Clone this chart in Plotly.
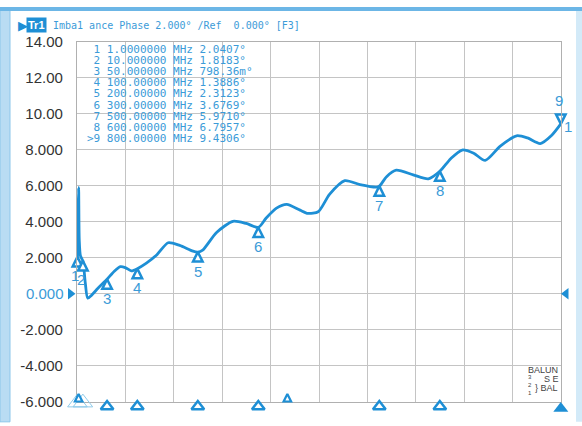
import plotly.graph_objects as go

# ---------------- data ----------------
freq_mhz = [0.3, 1, 2, 3, 4, 6, 10, 14, 18, 24, 35, 50, 62, 72, 80, 90, 100, 115, 132,
            151, 170, 192, 200, 208, 231, 258, 280, 300, 313, 330, 347, 369, 382, 399,
            418, 443, 468, 495, 500, 512, 528, 556, 581, 600, 618, 637, 656, 675, 700,
            727, 745, 766, 785, 800]
phase_deg = [2.0, 2.04, 4.5, 5.9, 3.0, 2.1, 1.82, 0.6, -0.25, -0.1, 0.3, 0.8, 1.25, 1.5,
             1.45, 1.27, 1.39, 1.7, 2.15, 2.83, 2.68, 2.36, 2.31, 2.42, 3.4, 4.02, 3.9,
             3.68, 4.2, 4.75, 4.96, 4.64, 4.46, 4.55, 5.53, 6.28, 6.06, 5.92, 5.97, 6.5,
             6.86, 6.6, 6.38, 6.8, 7.5, 7.98, 7.8, 7.4, 8.2, 8.77, 8.65, 8.34, 8.8, 9.43]

marker_ids = ["1", "2", "3", "4", "5", "6", "7", "8", "9"]
marker_freq = [1, 10, 50, 100, 200, 300, 500, 600, 800]
marker_val = [2.0407, 1.8183, 0.79836, 1.3886, 2.3123, 3.6769, 5.9710, 6.7957, 9.4306]
marker_freq_txt = ["1.0000000", "10.000000", "50.000000", "100.00000", "200.00000",
                   "300.00000", "500.00000", "600.00000", "800.00000"]
marker_val_txt = ["2.0407°", "1.8183°", "798.36m°", "1.3886°", "2.3123°",
                  "3.6769°", "5.9710°", "6.7957°", "9.4306°"]

y_ticks = [-6, -4, -2, 0, 2, 4, 6, 8, 10, 12, 14]
y_tick_txt = ["-6.000", "-4.000", "-2.000", "0.000", "2.000", "4.000", "6.000",
              "8.000", "10.00", "12.00", "14.00"]
ref_level = 0
stim_indicators = [3, 348]

title_txt = "Imba1 ance Phase 2.000° /Ref  0.000° [F3]"

# ---------------- styling ----------------
W, H = 582, 426
L, R, T, B = 77, 561, 34, 409
XMIN, XMAX = 0.3, 800.3
YMIN, YMAX = -6, 14
BLUE = "#1e8fd5"
TBLUE = "#3b9bd8"
LBLUE = "#8fcbea"
FRAME = "#b9dcf3"
MONO = "DejaVu Sans Mono"
SANS = "Liberation Sans"

ppx = (R - L) / (XMAX - XMIN)
ppy = (B - T) / (YMAX - YMIN)


def px(x):
    return x / W


def py(y):
    return 1 - y / H


fig = go.Figure()

# main trace
fig.add_trace(go.Scatter(x=freq_mhz, y=phase_deg, mode="lines",
                         line=dict(color=BLUE, width=2.8, shape="spline", smoothing=0.7),
                         hoverinfo="skip", showlegend=False))

# on-trace markers 1..8 (pointing up, below the trace)
fig.add_trace(go.Scatter(x=marker_freq[:8], y=marker_val[:8], mode="markers",
                         marker=dict(symbol="arrow-up", size=9.5, color="white",
                                     line=dict(color=BLUE, width=2.5)),
                         cliponaxis=False, hoverinfo="skip", showlegend=False))
# active marker 9 (pointing down, above)
fig.add_trace(go.Scatter(x=marker_freq[8:], y=marker_val[8:], mode="markers",
                         marker=dict(symbol="arrow-down", size=9.5, color="white",
                                     line=dict(color=BLUE, width=2.5)),
                         cliponaxis=False, hoverinfo="skip", showlegend=False))

# ---- indicators outside the grid: drawn on a full-figure overlay axis pair (same scale)
ov = dict(xaxis="x2", yaxis="y2", hoverinfo="skip", showlegend=False, cliponaxis=False)
fig.add_trace(go.Scatter(x=marker_freq[:2], y=[YMIN - 1 / ppy] * 2, mode="markers",
                         marker=dict(symbol="triangle-up-open", size=17, color=LBLUE,
                                     line=dict(color=LBLUE, width=1)), **ov))
fig.add_trace(go.Scatter(x=marker_freq[2:8], y=[YMIN - 5 / ppy] * 6, mode="markers",
                         marker=dict(symbol="triangle-up", size=11, color="white",
                                     line=dict(color=BLUE, width=2.5)), **ov))
fig.add_trace(go.Scatter(x=marker_freq[8:], y=[YMIN - 7 / ppy], mode="markers",
                         marker=dict(symbol="triangle-up", size=13, color=BLUE,
                                     line=dict(color=BLUE, width=0)), **ov))
fig.add_trace(go.Scatter(x=stim_indicators, y=[YMIN + 8 / ppy] * 2, mode="markers",
                         marker=dict(symbol="arrow-up", size=7.5, color="white",
                                     line=dict(color=BLUE, width=2.2)), **ov))
fig.add_trace(go.Scatter(x=[XMIN - 6.5 / ppx, XMAX + 5 / ppx], y=[ref_level] * 2,
                         mode="markers",
                         marker=dict(symbol=["triangle-right", "triangle-left"], size=10,
                                     color=BLUE), **ov))

annotations = []
# marker number labels
for i, (mid, f, v) in enumerate(zip(marker_ids, marker_freq, marker_val)):
    if i < 8:
        annotations.append(dict(x=f, y=v, xref="x", yref="y", text=mid, showarrow=False,
                                yshift=-19, xshift=-2 if i < 2 else 0,
                                font=dict(family=SANS, size=15, color=TBLUE)))
    else:
        annotations.append(dict(x=f, y=v, xref="x", yref="y", text=mid, showarrow=False,
                                yshift=23, xshift=-2,
                                font=dict(family=SANS, size=15, color=TBLUE)))
# trace number at end
annotations.append(dict(x=freq_mhz[-1], y=phase_deg[-1], xref="x", yref="y", text="1",
                        showarrow=False, xshift=7, yshift=-3,
                        font=dict(family=SANS, size=15, color=TBLUE)))
# reference value label (blue)
annotations.append(dict(x=px(66), y=ref_level, xref="paper", yref="y", text="0.000",
                        showarrow=False, xanchor="right", yanchor="middle",
                        font=dict(family=SANS, size=15, color=TBLUE)))

# marker table
for i, (mid, ft, vt) in enumerate(zip(marker_ids, marker_freq_txt, marker_val_txt)):
    prefix = ">" if mid == "9" else "\u00a0"
    line = f"{prefix}{mid}\u00a0{ft}\u00a0MHz\u00a0{vt}"
    annotations.append(dict(x=px(85), y=py(42 + i * 11.6), xref="paper", yref="paper",
                            text=line, showarrow=False, xanchor="left", yanchor="middle",
                            font=dict(family=MONO, size=11, color=TBLUE)))

# title bar
annotations.append(dict(x=px(16), y=py(17), xref="paper", yref="paper", text="▶",
                        showarrow=False, xanchor="left", yanchor="middle",
                        font=dict(family="DejaVu Sans", size=13, color=BLUE)))
annotations.append(dict(x=px(26), y=py(16.5), xref="paper", yref="paper", text="<b>Tr1</b>",
                        showarrow=False, xanchor="left", yanchor="middle", bgcolor=BLUE,
                        borderpad=1, font=dict(family=SANS, size=11, color="white")))
annotations.append(dict(x=px(51), y=py(17), xref="paper", yref="paper",
                        text=title_txt.replace(" ", "\u00a0"),
                        showarrow=False, xanchor="left", yanchor="middle",
                        font=dict(family=MONO, size=10, color=TBLUE)))

# BALUN legend
for txt, xx, yy, sz in [("BALUN", 543, 376, 9),
                        ("3<br>2<br>1", 530, 392, 6),
                        ("S\u00a0E", 551, 385, 9),
                        ("}\u00a0BAL", 546, 394.5, 9)]:
    annotations.append(dict(x=px(xx), y=py(yy), xref="paper", yref="paper", text=txt,
                            showarrow=False, xanchor="center", yanchor="middle",
                            font=dict(family=SANS, size=sz, color="#444")))

# window frame (strips at the figure edges)
shapes = [
    dict(type="rect", xref="paper", yref="paper", layer="above",
         x0=px(0), x1=px(10), y0=py(430), y1=py(0),
         fillcolor=FRAME, line=dict(color="#8cc6ea", width=1)),
    dict(type="rect", xref="paper", yref="paper", layer="above",
         x0=px(576), x1=px(584), y0=py(430), y1=py(0),
         fillcolor="#d3eaf8", line=dict(width=0)),
    dict(type="rect", xref="paper", yref="paper", layer="above",
         x0=px(0), x1=px(584), y0=py(2), y1=py(-2),
         fillcolor="#6cb6e6", line=dict(width=0)),
]

grid = dict(showgrid=True, gridcolor="#c4c4c4", gridwidth=1.2, zeroline=False,
            showline=True, linecolor="#b0b0b0", linewidth=1.2, mirror=True)

fig.update_layout(
    width=W, height=H, autosize=False,
    margin=dict(l=0, r=0, t=0, b=0, pad=0),
    paper_bgcolor="white", plot_bgcolor="rgba(0,0,0,0)",
    showlegend=False,
    xaxis=dict(domain=[L / W, R / W], range=[XMIN, XMAX], tick0=XMIN,
               dtick=(XMAX - XMIN) / 10, showticklabels=False, ticks="", **grid),
    yaxis=dict(domain=[1 - B / H, 1 - T / H], range=[YMIN, YMAX], tickvals=y_ticks,
               ticktext=["" if v == ref_level else t for v, t in zip(y_ticks, y_tick_txt)],
               tickfont=dict(family=SANS, size=15, color="#333"),
               ticks="", ticklabelstandoff=10, **grid),
    xaxis2=dict(domain=[0, 1], anchor="y2", visible=False,
                range=[XMIN - L / ppx, XMAX + (W - R) / ppx]),
    yaxis2=dict(domain=[0, 1], anchor="x2", visible=False,
                range=[YMIN - (H - B) / ppy, YMAX + T / ppy]),
    annotations=annotations, shapes=shapes,
)

fig.write_html("out.html", config={"displayModeBar": False},
               post_script="document.body.style.margin='0px';")
